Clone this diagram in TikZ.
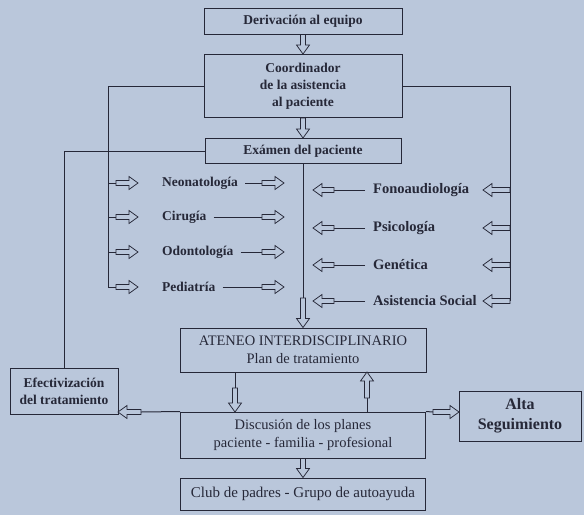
\documentclass[tikz,border=0pt]{standalone}
\usepackage{fontspec}
\setmainfont{Liberation Serif}
\usetikzlibrary{arrows.meta,positioning,calc}
\definecolor{paper}{RGB}{186,199,219}
\definecolor{ink}{RGB}{38,40,56}

\begin{document}
\begin{tikzpicture}[x=1pt,y=-1pt,ink,font=\fontsize{13.5}{17}\selectfont\bfseries,
    box/.style={draw=ink,line width=1pt,align=center,inner sep=2pt},
    plain/.style={font=\fontsize{14.5}{18}\selectfont},
    lbl/.style={inner sep=2pt},
    link/.style={draw=ink,line width=1pt},
    hollow/.style={draw=ink,fill=paper,line width=.75pt,line join=miter,
      to path={($(\tikztostart)!2.6pt!90:(\tikztotarget)$)
        -- ($(\tikztotarget)!9pt!(\tikztostart)!2.6pt!-90:(\tikztostart)$)
        -- ($(\tikztotarget)!9pt!(\tikztostart)!6.5pt!-90:(\tikztostart)$)
        -- (\tikztotarget)
        -- ($(\tikztotarget)!9pt!(\tikztostart)!6.5pt!90:(\tikztostart)$)
        -- ($(\tikztotarget)!9pt!(\tikztostart)!2.6pt!90:(\tikztostart)$)
        -- ($(\tikztostart)!2.6pt!-90:(\tikztotarget)$) -- cycle}}]
    \useasboundingbox (0,0) rectangle (584,515);
    \fill[paper] (0,0) rectangle (584,515);

    % cajas principales
    \node[box,minimum width=198pt,minimum height=26pt] (deriv) at (303,21) {Derivación al equipo};
    \node[box,minimum width=198pt,minimum height=63pt] (coord) at (303,86) {Coordinador\\de la asistencia\\al paciente};
    \node[box,minimum width=196pt,minimum height=25pt] (exam) at (303,151) {Exámen del paciente};
    \node[box,plain,minimum width=246pt,minimum height=44pt] (ateneo) at (303,350) {ATENEO INTERDISCIPLINARIO\\Plan de tratamiento};
    \node[box,plain,minimum width=245pt,minimum height=46pt] (disc) at (303,435) {Discusión de los planes\\paciente - familia - profesional};
    \node[box,plain,font=\fontsize{15}{18}\selectfont,minimum width=245pt,minimum height=32pt] (club) at (303,494) {Club de padres - Grupo de autoayuda};
    \node[box,minimum width=108pt,minimum height=46pt] (efect) at (64,391) {Efectivización\\del tratamiento};
    \node[box,font=\fontsize{16}{20}\selectfont\bfseries,minimum width=122pt,minimum height=50pt] (alta) at (520,416) {Alta\\Seguimiento};

    \draw[hollow] (deriv.south) to (coord.north);
    \draw[hollow] (coord.south) to (exam.north);

    % servicios (izquierda)
    \foreach \nm/\tx/\yy in {neo/Neonatología/183,cir/Cirugía/217,odo/Odontología/252,ped/Pediatría/287} {
      \node[lbl,anchor=west] (\nm) at (160,\yy) {\tx};
      \coordinate (\nm-bus) at (108,\yy);
      \coordinate (\nm-st) at (116,\yy);
      \coordinate (\nm-in) at (138,\yy);
      \coordinate (\nm-mid) at (262,\yy);
      \coordinate (\nm-out) at (284,\yy);
      \draw[link] (\nm-bus) -- (\nm-st);
      \draw[hollow] (\nm-st) to (\nm-in);
      \draw[link] ([xshift=5pt]\nm.east) -- (\nm-mid);
      \draw[hollow] (\nm-mid) to (\nm-out);
    }
    \draw[link] (coord.west) -| (ped-bus);

    % servicios (derecha)
    \foreach \nm/\tx/\yy in {fon/Fonoaudiología/190,psi/Psicología/228,gen/Genética/265,asi/Asistencia Social/301} {
      \node[lbl,anchor=west,font=\fontsize{14.5}{17}\selectfont\bfseries] (\nm) at (371,\yy) {\tx};
      \coordinate (\nm-bus) at (510,\yy);
      \coordinate (\nm-in) at (483,\yy);
      \coordinate (\nm-mid) at (334,\yy);
      \coordinate (\nm-out) at (313,\yy);
      \draw[hollow] (\nm-bus) to (\nm-in);
      \draw[link] ([xshift=-6pt]\nm.west) -- (\nm-mid);
      \draw[hollow] (\nm-mid) to (\nm-out);
    }
    \draw[link] (coord.east) -| (asi-bus);

    % examen -> ateneo, y retorno a efectivizacion
    \coordinate (ex-a) at (303,298);
    \draw[link] (exam.south) -- (ex-a);
    \draw[hollow] (ex-a) to (ateneo.north);
    \draw[link] (exam.west) -| (efect.north);

    % ateneo <-> discusion
    \coordinate (dn-a) at (235,388);
    \coordinate (dn-b) at (235,412);
    \draw[link] (ateneo.south -| dn-a) -- (dn-a);
    \draw[hollow] (dn-a) to (dn-b);
    \coordinate (up-a) at (367,398);
    \coordinate (up-b) at (367,372);
    \draw[link] (disc.north -| up-a) -- (up-a);
    \draw[hollow] (up-a) to (up-b);

    % salidas de la discusion
    \coordinate (ef-a) at (141,412);
    \coordinate (ef-b) at (118,412);
    \draw[link] (disc.north west) -- (ef-a);
    \draw[hollow] (ef-a) to (ef-b);
    \coordinate (al-a) at (433,412);
    \coordinate (al-b) at (459,412);
    \draw[link] (disc.north east) -- (al-a);
    \draw[hollow] (al-a) to (al-b);
    \draw[hollow] (disc.south) to (club.north);
\end{tikzpicture}
\end{document}
